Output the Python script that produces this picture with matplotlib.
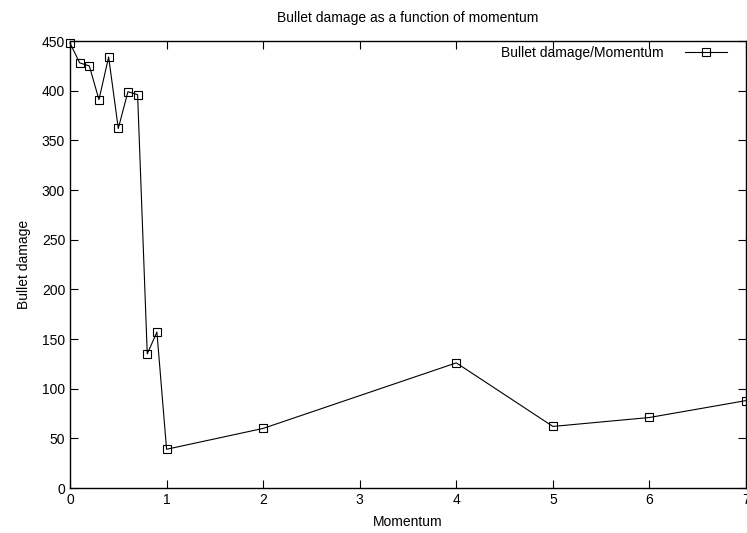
import matplotlib
matplotlib.use('Agg')
import matplotlib.pyplot as plt

momentum = [0, 0.1, 0.2, 0.3, 0.4, 0.5, 0.6, 0.7, 0.8, 0.9, 1, 2, 4, 5, 6, 7]
damage = [448, 428, 425, 391, 434, 362, 399, 396, 135, 157, 39, 60, 126, 62, 71, 88]

x_ticks = [0, 1, 2, 3, 4, 5, 6, 7]
y_ticks = list(range(0, 451, 50))

plt.rcParams['font.family'] = ['Liberation Sans', 'DejaVu Sans']
plt.rcParams['font.size'] = 10

fig = plt.figure(figsize=(7.47, 5.33), dpi=100)
ax = fig.add_axes([0.0937, 0.0844, 0.905, 0.8386])

ax.plot(momentum, damage, color='black', linewidth=0.8, marker='s',
        markersize=5.8, markerfacecolor='none', markeredgewidth=0.8,
        label='Bullet damage/Momentum', clip_on=False)

ax.set_xlim(0, 7)
ax.set_ylim(0, 450)
ax.set_xticks(x_ticks)
ax.set_yticks(y_ticks)
ax.tick_params(direction='in', length=6, width=0.8, top=True, right=True, labelsize=10)
for s in ax.spines.values():
    s.set_linewidth(1.0)

ax.set_title('Bullet damage as a function of momentum', fontsize=10, pad=14)
ax.set_xlabel('Momentum', fontsize=10, labelpad=6)
ax.set_ylabel('Bullet damage', fontsize=10, labelpad=8)

ax.legend(loc='upper right', markerfirst=False, frameon=False, fontsize=10,
          handlelength=3.0, handletextpad=1.6, borderpad=0, borderaxespad=0,
          bbox_to_anchor=(0.972, 0.99))

fig.savefig('out.png', dpi=100)
